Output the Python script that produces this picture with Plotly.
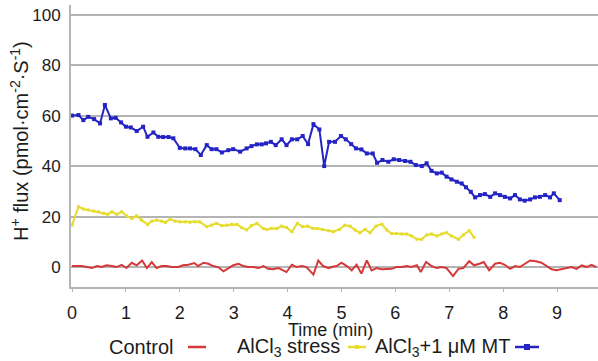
import plotly.graph_objects as go

# ---------------- data ----------------
control_t = [0.00, 0.18, 0.37, 0.46, 0.55, 0.64, 0.74, 0.83, 0.92, 1.01, 1.11, 1.20, 1.30, 1.39, 1.48,
             1.57, 1.66, 1.76, 1.85, 1.97, 2.06, 2.16, 2.27, 2.34, 2.44, 2.53, 2.62, 2.71, 2.81, 2.90,
             2.99, 3.09, 3.18, 3.27, 3.36, 3.46, 3.55, 3.64, 3.73, 3.83, 3.92, 3.98, 4.08, 4.17, 4.27,
             4.35, 4.48, 4.57, 4.66, 4.76, 4.85, 4.91, 5.00, 5.10, 5.19, 5.28, 5.37, 5.47, 5.56, 5.65,
             5.75, 5.84, 5.93, 6.02, 6.12, 6.21, 6.30, 6.40, 6.47, 6.57, 6.67, 6.77, 6.86, 6.95, 7.07,
             7.17, 7.26, 7.37, 7.46, 7.56, 7.64, 7.74, 7.85, 7.94, 8.03, 8.13, 8.22, 8.31, 8.40, 8.50,
             8.61, 8.71, 8.81, 8.90, 8.99, 9.09, 9.18, 9.27, 9.36, 9.46, 9.55, 9.64, 9.73]
control_v = [0.4, 0.4, -0.4, 0.4, 0.0, 0.7, 0.4, 0.0, 0.9, -0.4, 1.7, 0.7, 2.6, -0.4, 2.0,
             -0.4, 0.4, 0.4, 0.0, 0.0, 0.7, 0.9, 1.6, 0.4, 1.7, 1.3, 0.4, 0.0, -1.7, -0.4,
             0.7, 1.3, 0.4, 0.0, 0.0, -0.4, 0.4, -0.7, -0.9, -0.4, -1.3, -2.0, 0.9, 0.0, 0.4,
             0.0, -3.0, 2.6, 0.4, -0.4, 0.2, 0.4, 1.7, 0.4, -1.3, 0.9, -2.6, 2.6, -1.3, -0.4,
             -0.9, -0.9, -0.7, 0.0, 0.0, 0.4, 0.0, 0.7, -2.0, 2.0, 0.4, -0.4, 0.0, -0.4, -3.6,
             -0.7, -0.4, 2.3, 0.7, 1.3, 2.0, -1.3, 1.3, 1.7, 0.9, -0.7, 0.4, 0.0, 1.3, 2.6,
             2.3, 1.7, 0.4, -0.9, -1.3, -0.9, -0.4, 0.0, -0.7, 0.7, 0.0, 0.9, 0.0]

stress_t = [0.00, 0.12, 0.21, 0.30, 0.40, 0.49, 0.58, 0.66, 0.74, 0.83, 0.92, 1.01, 1.11, 1.20, 1.29,
            1.40, 1.48, 1.57, 1.66, 1.73, 1.82, 1.91, 2.00, 2.10, 2.19, 2.28, 2.37, 2.50, 2.59, 2.68,
            2.78, 2.87, 2.96, 3.06, 3.15, 3.24, 3.33, 3.43, 3.55, 3.61, 3.70, 3.80, 3.89, 3.98, 4.08,
            4.18, 4.28, 4.37, 4.47, 4.55, 4.65, 4.76, 4.85, 4.96, 5.06, 5.16, 5.25, 5.34, 5.44, 5.53,
            5.64, 5.75, 5.84, 5.93, 6.02, 6.12, 6.21, 6.30, 6.40, 6.49, 6.58, 6.67, 6.77, 6.86, 6.95,
            7.04, 7.17, 7.26, 7.37, 7.46]
stress_v = [16.6, 23.9, 23.0, 22.6, 22.2, 21.9, 21.3, 20.9, 21.9, 20.9, 21.9, 20.3, 19.3, 20.3, 18.6,
            16.9, 18.2, 18.6, 18.2, 17.7, 19.0, 18.2, 17.9, 17.9, 17.7, 17.9, 17.9, 16.0, 16.6, 17.3,
            16.4, 16.6, 16.9, 16.9, 15.6, 14.7, 16.4, 17.3, 15.3, 14.9, 15.3, 15.3, 16.2, 15.7, 14.0,
            17.3, 16.0, 16.2, 15.3, 15.3, 14.9, 14.4, 14.0, 14.9, 16.6, 16.2, 14.7, 13.6, 14.9, 13.6,
            16.2, 17.0, 14.7, 13.3, 13.3, 13.1, 13.1, 12.3, 11.0, 11.0, 12.7, 13.1, 12.3, 13.1, 13.6,
            12.3, 11.0, 12.7, 14.4, 11.8]

mt_t = [0.00, 0.12, 0.21, 0.30, 0.41, 0.52, 0.61, 0.72, 0.81, 0.91, 1.00, 1.09, 1.20, 1.32, 1.40,
        1.51, 1.60, 1.69, 1.79, 1.88, 2.00, 2.10, 2.19, 2.29, 2.39, 2.50, 2.59, 2.68, 2.78, 2.90,
        2.99, 3.12, 3.24, 3.33, 3.43, 3.52, 3.60, 3.69, 3.78, 3.89, 3.98, 4.08, 4.18, 4.28, 4.38,
        4.48, 4.59, 4.68, 4.77, 4.88, 4.99, 5.08, 5.18, 5.27, 5.37, 5.47, 5.58, 5.66, 5.76, 5.87,
        5.97, 6.07, 6.18, 6.28, 6.38, 6.49, 6.58, 6.67, 6.77, 6.86, 6.95, 7.04, 7.14, 7.23, 7.31,
        7.40, 7.48, 7.57, 7.66, 7.76, 7.85, 7.94, 8.03, 8.13, 8.22, 8.31, 8.40, 8.50, 8.59, 8.68,
        8.78, 8.87, 8.94, 9.05]
mt_v = [60.0, 60.2, 58.2, 59.5, 58.6, 56.9, 64.2, 58.9, 59.1, 57.3, 55.6, 55.3, 53.9, 55.6, 51.6,
        53.3, 51.6, 51.5, 51.5, 51.0, 47.2, 47.0, 47.0, 46.7, 44.4, 48.3, 46.7, 46.7, 45.4, 46.3,
        46.7, 45.7, 47.0, 47.9, 48.6, 48.6, 49.0, 49.6, 48.3, 50.6, 48.3, 50.6, 50.6, 51.9, 48.7,
        56.6, 54.5, 40.0, 49.6, 49.6, 51.9, 50.6, 48.7, 47.0, 46.6, 45.0, 45.0, 41.3, 42.4, 41.7,
        42.7, 42.4, 42.0, 41.7, 40.4, 40.0, 41.1, 38.1, 37.1, 37.4, 35.8, 34.7, 33.8, 33.1, 31.6,
        29.8, 27.6, 28.5, 28.9, 27.8, 29.2, 28.5, 27.8, 27.2, 28.5, 26.8, 26.3, 26.8, 27.6, 27.8,
        28.5, 27.6, 29.2, 26.5]

x_ticks = [0, 1, 2, 3, 4, 5, 6, 7, 8, 9]
y_ticks = [0, 20, 40, 60, 80, 100]
series_names = ["Control", "AlCl<sub>3</sub> stress", "AlCl<sub>3</sub>+1 μM MT"]

# ---------------- style ----------------
RED = "#d6383a"
YEL = "#e6dc2e"
BLU = "#2424c4"
GRID = "#b4b4b4"
TXT = "#1c1c1c"
FONT = "Liberation Sans, Arial, sans-serif"

fig = go.Figure()
fig.add_trace(go.Scatter(x=control_t, y=control_v, mode="lines",
                         line=dict(color=RED, width=2), name=series_names[0]))
fig.add_trace(go.Scatter(x=stress_t, y=stress_v, mode="lines+markers",
                         line=dict(color=YEL, width=2),
                         marker=dict(color=YEL, size=3, symbol="square"), name=series_names[1]))
fig.add_trace(go.Scatter(x=mt_t, y=mt_v, mode="lines+markers",
                         line=dict(color=BLU, width=2),
                         marker=dict(color=BLU, size=4, symbol="square"), name=series_names[2]))

L, T, W, H = 71, 5, 598, 361
PB = 287  # plot bottom px
pw, ph = W - L, PB - T


def px(xp):
    return (xp - L) / pw


def py(yp):
    return (PB - yp) / ph


def ann(text, x, y, size, xanchor="center", **kw):
    return dict(text=text, x=px(x), y=py(y), xref="paper", yref="paper",
                xanchor=xanchor, yanchor="middle", showarrow=False,
                font=dict(size=size, color=TXT, family=FONT), **kw)


annotations = [
    ann("Time (min)", 330, 330, 18),
    ann("H<sup>+</sup> flux (pmol·cm<sup>-2</sup>·S<sup>-1</sup>)", 19, 141, 20, textangle=-90),
    ann(series_names[0], 175, 347, 20, xanchor="right"),
    ann(series_names[1], 235, 347, 20, xanchor="left"),
    ann(series_names[2], 373, 347, 20, xanchor="left"),
]

shapes = [
    dict(type="line", xref="paper", yref="paper", x0=px(188), x1=px(206), y0=py(347), y1=py(347),
         line=dict(color=RED, width=2.5)),
    dict(type="line", xref="paper", yref="paper", x0=px(348), x1=px(366), y0=py(347), y1=py(347),
         line=dict(color=YEL, width=2.5)),
    dict(type="rect", xref="paper", yref="paper", x0=px(355), x1=px(359), y0=py(349), y1=py(345),
         fillcolor=YEL, line=dict(width=0)),
    dict(type="line", xref="paper", yref="paper", x0=px(515), x1=px(539), y0=py(347), y1=py(347),
         line=dict(color=BLU, width=2.5)),
    dict(type="rect", xref="paper", yref="paper", x0=px(524), x1=px(530), y0=py(350), y1=py(344),
         fillcolor=BLU, line=dict(width=0)),
]

fig.update_layout(
    width=W, height=H,
    margin=dict(l=L, r=0, t=T, b=H - PB, pad=0),
    paper_bgcolor="white", plot_bgcolor="white",
    showlegend=False,
    font=dict(family=FONT, color=TXT),
    annotations=annotations, shapes=shapes,
    xaxis=dict(range=[-0.019, 9.76], tickvals=x_ticks, showgrid=False, zeroline=False,
               showline=True, linecolor=GRID, linewidth=2, ticks="outside", ticklen=3,
               tickcolor=GRID, tickwidth=1, ticklabelstandoff=5,
               tickfont=dict(size=18, color=TXT, family=FONT)),
    yaxis=dict(range=[-7.9, 103.8], tickvals=y_ticks, showgrid=True, gridcolor=GRID, gridwidth=2,
               zeroline=False, showline=True, linecolor=GRID, linewidth=2, ticks="",
               ticklabelstandoff=5, tickfont=dict(size=17, color=TXT, family=FONT)),
)

fig.write_html(
    "out.html",
    config={"displayModeBar": False},
    post_script="document.body.style.margin='0';document.body.style.overflow='hidden';",
)
